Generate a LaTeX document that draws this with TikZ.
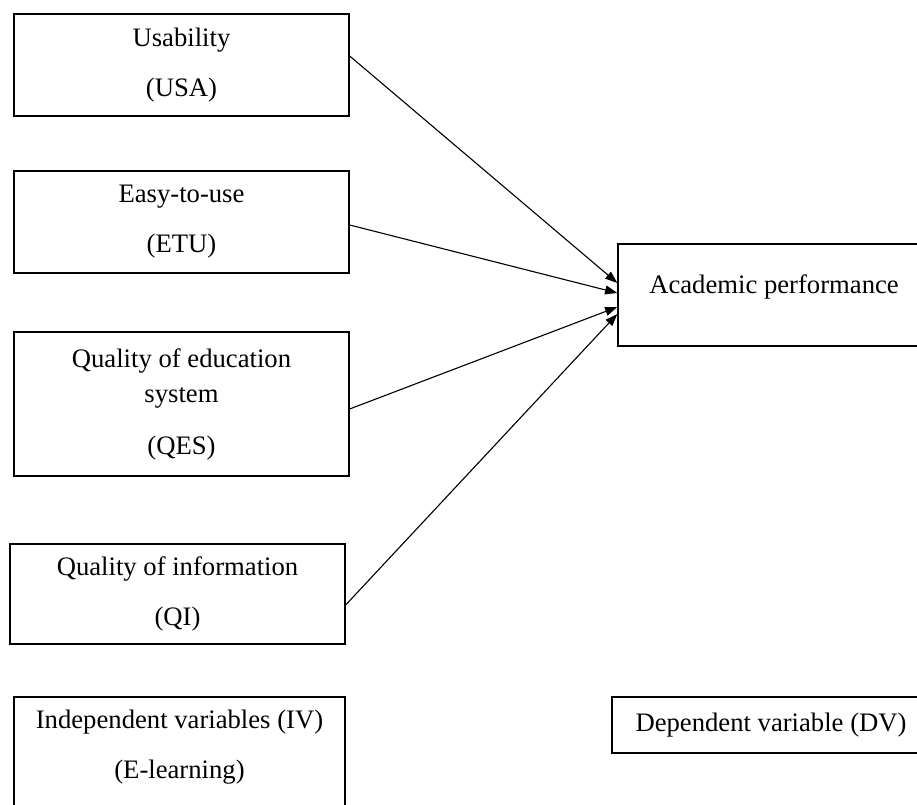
\documentclass[tikz,border=0pt]{standalone}
\usepackage{fontspec}
\setmainfont{Liberation Serif}
\usetikzlibrary{arrows.meta,calc}

\tikzset{
	varbox/.style={draw, line width=0.6pt, inner sep=0pt, align=center,
		font=\fontsize{12}{14}\selectfont},
	link/.style={line width=0.5pt, -{Triangle[width=4pt,length=5.5pt]}}
}

\begin{document}
\begin{tikzpicture}[x=0.45pt,y=-0.45pt]
\useasboundingbox (0,0) rectangle (917,805);
\clip (0,0) rectangle (917,805);

% independent variables
\node[varbox, minimum width=150.75pt, minimum height=45.9pt] (usa) at (181.5,65)
	{Usability\\[8.5pt](USA)};
\node[varbox, minimum width=150.75pt, minimum height=45.9pt] (etu) at (181.5,222)
	{Easy-to-use\\[8.5pt](ETU)};
\node[varbox, minimum width=150.75pt, minimum height=64.8pt] (qes) at (181.5,404)
	{Quality of education\\[1.75pt]system\\[9.4pt](QES)};
\node[varbox, minimum width=150.75pt, minimum height=45pt] (qi) at (177.5,594)
	{Quality of information\\[8.5pt](QI)};
\node[varbox, minimum width=149pt, minimum height=53.1pt, text depth=10.2pt] (iv) at (179.5,756)
	{Independent variables (IV)\\[8.5pt](E-learning)};

% dependent variable
\node[varbox, minimum width=140.4pt, minimum height=45.9pt, text depth=9.8pt] (ap) at (774,295)
	{Academic performance};
\node[varbox, minimum width=143.1pt, minimum height=25.2pt] (dv) at (771,725)
	{Dependent variable (DV)};

\draw[link] ($(usa.east)+(0,-9)$) -- ($(ap.west)+(0,-12)$);
\draw[link] ($(etu.east)+(0,3)$) -- ($(ap.west)+(0,-2)$);
\draw[link] ($(qes.east)+(0,5)$) -- ($(ap.west)+(0,12)$);
\draw[link] ($(qi.east)+(0,11)$) -- ($(ap.west)+(0,19)$);
\end{tikzpicture}
\end{document}
